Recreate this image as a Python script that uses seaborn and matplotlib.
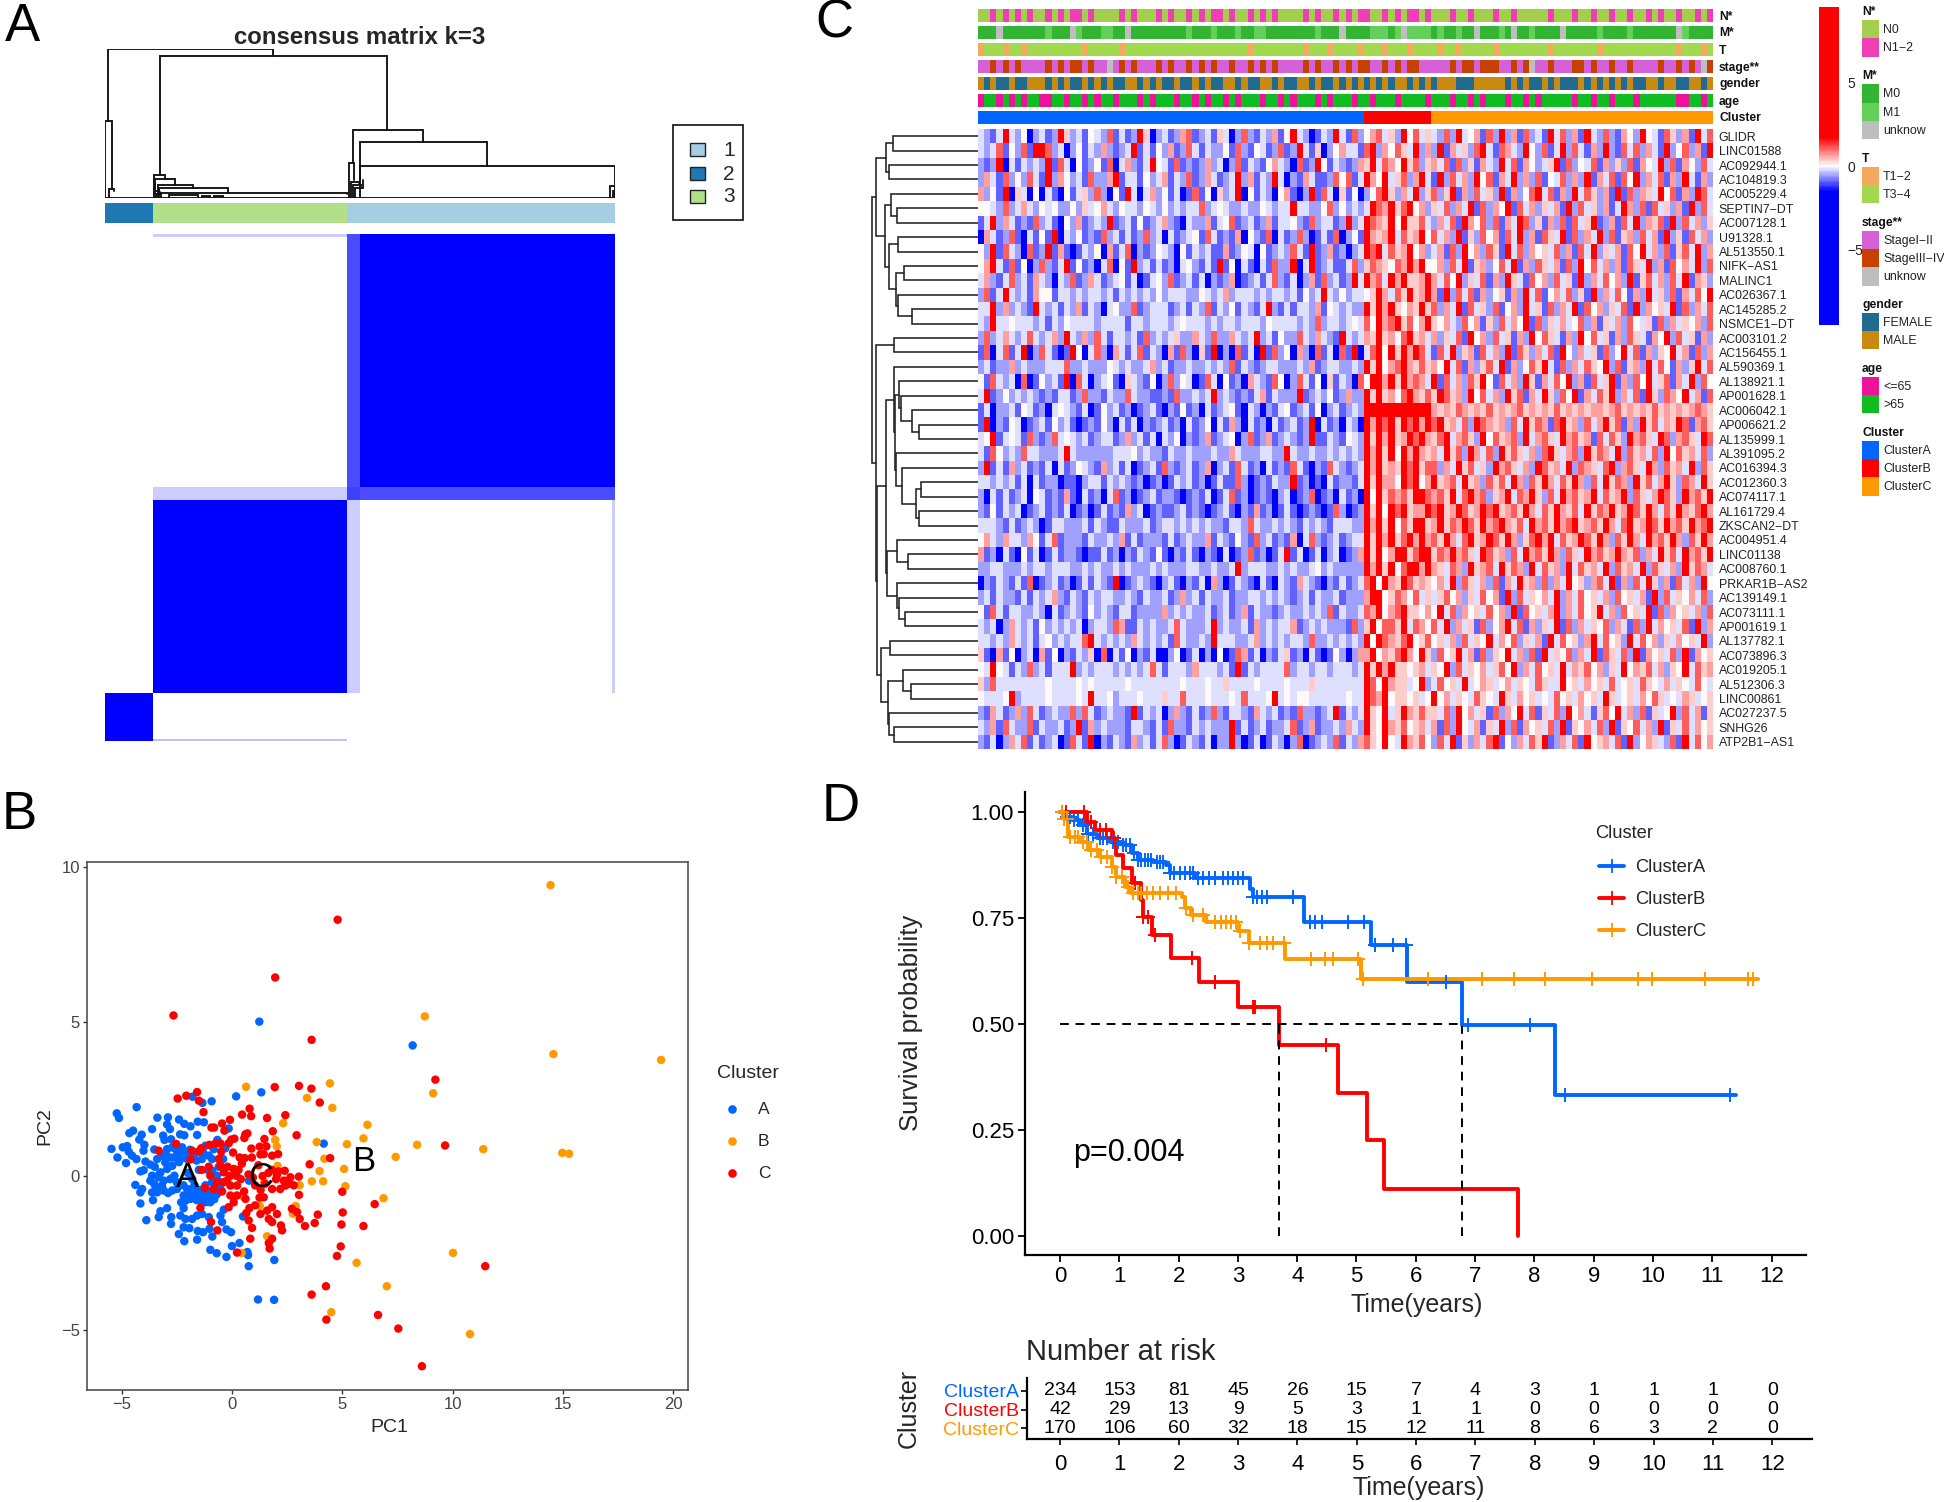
# Four panel figure: consensus matrix, PCA, expression heatmap, survival curves
import numpy as np
import pandas as pd
import matplotlib
matplotlib.use('Agg')
import matplotlib.pyplot as plt
import seaborn as sns
from matplotlib.colors import ListedColormap, LinearSegmentedColormap
from matplotlib.patches import Rectangle

sns.set_theme(style='white')
plt.rcParams['font.family'] = ['Liberation Sans', 'DejaVu Sans']

W, H = 1944, 1502
BLUE, RED, ORANGE = '#0066FF', '#FF0000', '#FF9900'

# ── Panel A data ─────────────────────────────────────────────
group_sizes = [42, 170, 234]
group_colors = ['#1F78B4', '#B2DF8A', '#A6CEE3']
seg_sizes = [2, 40, 170, 11, 220, 3]
seg_consensus = [
    [1.0, 1.0, 0.25, 0.0, 0.0, 0.0],
    [1.0, 1.0, 0.0, 0.0, 0.0, 0.0],
    [0.0, 0.0, 1.0, 0.2, 0.0, 0.2],
    [0.0, 0.0, 0.2, 0.75, 0.7, 0.7],
    [0.0, 0.0, 0.0, 0.7, 1.0, 1.0],
    [0.0, 0.0, 0.2, 0.7, 1.0, 1.0],
]
# sample position left/right, branch heights left/right, join height
den_x0 = [2.6, 48, 216.5, 222.6, 223.4, 0, 3.5, 42.8, 44, 46, 47, 49.3, 55.9, 95, 213.8, 215, 217, 219, 442, 444, 43, 45, 85, 0]
den_x1 = [146.6, 247, 278.4, 333.8, 445.6, 5.7, 8, 52.4, 61, 76.8, 107.4, 212, 81, 103, 218, 222, 224, 226, 445.6, 445.6, 47, 48, 92, 446]
den_h0 = [0.515, 0.157, 0.235, 0.11, 0.0, 0, 0, 0.03, 0.03, 0, 0, 0, 0, 0, 0, 0, 0, 0, 0, 0, 0, 0, 0, 0]
den_h1 = [0.955, 0.454, 0.376, 0.213, 0.08, 0.06, 0.05, 0.13, 0.089, 0.067, 0.034, 0.03, 0, 0, 0.12, 0.1, 0.08, 0.12, 0, 0, 0.06, 0.04, 0, 0]
den_top = [1.0, 0.955, 0.454, 0.376, 0.213, 0.515, 0.06, 0.157, 0.13, 0.089, 0.067, 0.034, 0.022, 0.015, 0.235, 0.11, 0.09, 0.07, 0.08, 0.05, 0.05, 0.03, 0.012, 0.002]

# ── Panel B data (PC1, PC2) ──────────────────────────────────
points_a = [
    (-5.22, 2.03), (-5.12, 1.88), (-4.32, 2.23), (-3.38, 1.89), (-2.90, 1.90), (-2.94, 1.67), (-2.81, 1.52), (-2.40, 1.83),
    (-2.16, 1.69), (-1.88, 1.61), (-1.55, 1.76), (-1.27, 1.74), (-3.62, 1.52), (-4.48, 1.47), (-4.65, 1.39), (-4.09, 1.34),
    (-4.20, 1.18), (-3.97, 1.01), (-4.01, 0.82), (-5.46, 0.88), (-4.95, 0.93), (-4.75, 0.97), (-4.68, 0.79), (-4.53, 0.66),
    (-4.33, 0.55), (-5.19, 0.60), (-4.80, 0.42), (-3.12, 1.31), (-3.06, 1.17), (-2.76, 1.19), (-2.35, 1.35), (-2.16, 1.32),
    (-1.58, 1.33), (-3.52, 0.86), (-0.15, 1.54), (-0.66, 1.17), (-0.92, 2.42), (-1.34, 2.37), (-1.79, 2.57), (0.19, 2.58),
    (1.33, 2.71), (0.77, -0.15), (4.16, 1.05), (1.24, 5.0), (8.19, 4.23),
    (-3.92, 0.47), (-3.70, 0.37), (-3.39, 0.55), (-3.17, 0.66), (-2.94, 0.87), (-2.71, 0.93), (-2.49, 0.82), (-2.26, 0.93),
    (-2.03, 0.76), (-1.73, 0.66), (-3.02, 0.44), (-2.64, 0.60), (-2.34, 0.55), (-2.03, 0.55), (-1.36, 0.55), (-1.05, 0.66),
    (-1.20, 0.98), (-0.83, 0.87), (-4.15, 0.15), (-4.0, 0.19), (-3.62, 0.01), (-3.70, -0.15), (-3.24, 0.12), (-2.94, 0.23),
    (-3.32, -0.04), (-3.09, -0.15), (-2.71, 0.33), (-2.61, 0.01), (-3.17, -0.31), (-3.52, -0.26), (-3.62, -0.53), (-3.39, -0.53),
    (-3.09, -0.47), (-2.71, -0.47), (-2.49, -0.42), (-4.38, -0.29), (-4.07, -0.42), (-4.15, -0.53), (-3.58, -0.78), (-4.15, -0.89),
    (-2.03, -0.42), (-1.81, -0.42), (-1.58, -0.53), (-1.36, -0.63), (-1.13, -0.63), (-0.90, -0.74), (-0.68, -0.58), (-0.52, -0.42),
    (-2.19, -0.63), (-2.11, -0.80), (-1.88, -0.74), (-1.66, -0.69), (-1.43, -0.80), (-1.20, -0.85), (-0.98, -0.85), (-0.68, 0.01),
    (-0.90, 0.17), (-0.52, -0.20), (-0.75, -0.37),
    (-3.5, 0.3), (-3.0, 0.7), (-2.8, 0.6), (-2.5, 0.65), (-2.2, 0.75), (-1.9, 0.85), (-2.6, 0.9), (-2.4, 0.45), (-1.6, 0.5),
    (-1.5, 0.8), (-1.3, 0.75), (-0.9, 0.55), (-2.0, 0.1), (-1.8, -0.1), (-1.7, -0.3), (-1.4, -0.45), (-1.2, -0.3), (-1.0, -0.5),
    (-0.9, -0.2), (-0.7, -0.6), (-1.6, -0.65), (-1.9, -0.55), (-2.2, -0.3), (-2.5, -0.2), (-2.8, -0.1), (-3.3, 0.05), (-3.45, -0.35),
    (-2.9, -0.55), (-1.1, 0.2), (-1.5, 0.2), (-0.6, 0.3), (-0.4, 0.55), (-0.3, 0.9), (-0.8, -0.75), (-1.1, -0.72), (-1.3, -0.6),
    (-1.6, -0.78), (-1.9, -0.7), (-2.05, -0.65), (-2.3, -0.85),
    (-3.24, -1.14), (-2.94, -1.04), (-3.32, -1.33), (-3.88, -1.43), (-2.75, -1.33), (-2.76, -1.55), (-2.19, -1.04), (-2.34, -1.28),
    (-2.11, -1.39), (-1.81, -1.39), (-1.58, -1.28), (-1.36, -1.23), (-1.05, -1.33), (-2.19, -1.66), (-1.93, -1.69), (-2.41, -1.88),
    (-1.55, -1.78), (-1.31, -1.82), (-1.02, -1.71), (-0.89, -1.96), (-1.58, -2.06), (-2.16, -2.11), (-0.45, -1.49), (-0.52, -1.28),
    (-0.37, -1.09), (-0.25, -1.73), (-0.04, -1.82), (0.50, -1.31), (-0.98, -2.39), (-0.69, -2.50), (-0.25, -2.62), (0.0, -2.27),
    (0.34, -2.17), (0.70, -2.46), (0.73, -2.56), (0.76, -2.92), (1.92, -2.72), (1.18, -4.0), (1.91, -4.01),
]
points_b = [
    (14.44, 9.42), (8.74, 5.17), (14.57, 3.95), (19.45, 3.76), (0.64, 2.89), (4.44, 3.0), (9.12, 2.68), (3.4, 2.53), (4.55, 2.21),
    (6.14, 1.66), (2.32, 1.71), (5.96, 1.22), (3.84, 1.1), (5.21, 1.03), (8.39, 1.01), (11.39, 0.87), (14.97, 0.75), (15.28, 0.72),
    (7.42, 0.62), (1.96, 1.17), (2.03, 0.96), (4.19, 0.56), (2.07, 0.33), (3.97, 0.16), (5.08, 0.23), (3.62, -0.17), (4.13, -0.17),
    (3.07, -0.3), (5.14, -0.33), (6.87, -0.72), (1.26, -0.97), (2.89, -0.97), (2.76, -1.22), (1.59, -1.95), (10.02, -2.49),
    (5.65, -2.81), (7.02, -3.57), (4.5, -4.41), (10.79, -5.12), (0.44, -2.49), (0.46, -0.64), (1.46, -0.2),
]
points_c = [
    (-2.65, 5.2), (3.61, 4.41), (9.22, 3.12), (1.94, 2.88), (3.04, 2.92), (3.60, 2.83), (3.98, 2.38), (-1.58, 2.72), (-2.07, 2.60),
    (-2.46, 2.51), (-1.5, 2.44), (-1.29, 2.07), (0.80, 2.18), (0.46, 1.99), (0.87, 1.94), (1.59, 1.88), (2.42, 1.97), (-0.45, 1.70),
    (-0.09, 1.82), (-0.93, 1.57), (-0.81, 1.57), (-0.34, 1.47), (0.11, 1.21), (0.70, 1.38), (0.61, 1.35), (0.56, 1.23), (1.85, 1.45),
    (2.93, 1.32), (1.47, 1.2), (-0.03, 1.18), (-0.15, 1.06), (-1.02, 1.01), (-0.75, 1.05), (-0.52, 1.05), (1.26, 0.95), (1.56, 0.96),
    (0.88, 0.89), (-1.39, 0.90), (-1.49, 0.79), (-1.81, 0.82), (-2.53, 1.04), (-3.32, 0.82), (-1.88, 0.54), (-0.49, 0.79), (0.05, 0.76),
    (0.58, 0.58), (1.44, 0.71), (1.82, 0.66), (2.09, 0.71), (1.29, 0.70), (9.66, 0.99), (4.45, 0.58), (3.52, 0.38), (-0.52, 0.33),
    (-1.05, 0.30), (-1.37, 0.20), (-0.98, 0.01), (-0.37, 0.12), (0.08, 0.23), (0.2, 0.01), (-0.22, -0.15), (-0.07, -0.31), (0.23, -0.31),
    (-0.83, -0.42), (-1.23, -0.39), (-0.37, -0.2), (-0.68, -0.2), (1.39, 0.0), (2.04, 0.03), (2.39, 0.17), (2.65, -0.04), (3.03, -0.02),
    (2.35, -0.15), (5.0, -0.51), (1.82, -0.42), (2.19, -0.42), (2.42, -0.31), (3.04, -0.61), (6.47, -0.91), (0.23, -0.63), (0.61, -0.74),
    (-0.07, -0.63), (0.08, -0.85), (-0.15, -1.01), (0.79, -1.04), (1.44, -0.69), (1.29, -1.23), (1.82, -1.01), (1.59, -1.12), (2.04, -1.23),
    (2.72, -1.06), (2.95, -1.17), (3.07, -1.39), (3.89, -1.25), (5.02, -1.18), (3.75, -1.52), (3.31, -1.62), (4.96, -1.57), (5.96, -1.62),
    (1.67, -1.39), (1.82, -1.49), (2.22, -1.6), (2.27, -1.76), (0.76, -1.44), (0.91, -1.68), (-0.95, -1.49), (-1.43, -1.03), (-0.66, -1.76),
    (0.83, -2.03), (1.82, -2.03), (1.67, -2.17), (1.71, -2.35), (0.23, -2.48), (4.93, -2.28), (4.76, -2.59), (11.48, -2.92), (4.26, -3.57),
    (3.61, -3.84), (6.62, -4.5), (4.28, -4.65), (7.54, -4.94), (4.79, 8.3), (1.96, 6.43), (8.61, -6.16),
    (-0.2, 0.3), (-0.1, 0.0), (0.3, 0.2), (-0.6, 0.55), (0.45, 0.4), (0.4, -0.1), (0.55, -0.5), (-0.45, -0.5), (0.35, 0.6), (0.75, 0.05),
    (0.95, -0.05), (1.05, -0.3), (1.3, -0.45), (1.5, -0.25), (1.65, 0.1), (1.8, 0.2), (2.0, -0.1), (2.1, 0.15), (2.6, -0.25), (2.8, -0.3),
    (1.2, 0.35), (0.9, 0.6), (1.25, -0.7), (0.65, -1.2), (1.05, -0.95),
]

# ── Panel C data ─────────────────────────────────────────────
genes = ['GLIDR', 'LINC01588', 'AC092944.1', 'AC104819.3', 'AC005229.4', 'SEPTIN7−DT', 'AC007128.1', 'U91328.1', 'AL513550.1',
         'NIFK−AS1', 'MALINC1', 'AC026367.1', 'AC145285.2', 'NSMCE1−DT', 'AC003101.2', 'AC156455.1', 'AL590369.1', 'AL138921.1',
         'AP001628.1', 'AC006042.1', 'AP006621.2', 'AL135999.1', 'AL391095.2', 'AC016394.3', 'AC012360.3', 'AC074117.1',
         'AL161729.4', 'ZKSCAN2−DT', 'AC004951.4', 'LINC01138', 'AC008760.1', 'PRKAR1B−AS2', 'AC139149.1', 'AC073111.1',
         'AP001619.1', 'AL137782.1', 'AC073896.3', 'AC019205.1', 'AL512306.3', 'LINC00861', 'AC027237.5', 'SNHG26', 'ATP2B1−AS1']
# expression levels per digit, 0 = strongest blue, 8 = strongest red
heat_levels = [-1.6, -0.95, -0.52, -0.22, 0.0, 0.3, 0.65, 1.05, 1.8]
# estimated by eye and coarsened: one character covers about 4 samples
heat_a = [
    '3213832402 3128523143 2713128502 3126712315 3027213261 4832013283 172',
    '3237142718 8723024132 6212381314 2612731322 4172143127 1283150246 331',
    '2128031323 2817304124 1703621384 3171212623 0271321463 2071284132 126',
    '2631724273 1826423172 2681331423 6132712631 2382613283 0216311274 713',
    '6241805304 0310413527 2041830362 4130171405 2380413204 6102817305 140',
    '4432723632 4342242534 6324332432 4232337234 3223224323 3833224724 232',
    '1382631217 2310426123 2812314123 6210322613 4712312613 3421723312 823',
    '0631271031 4180324121 7231312723 0312341731 2160421703 1272013170 241',
    '4281732071 2816101324 0613702124 3204132311 6124304123 2731812612 023',
    '4683171402 7213814120 3704182313 1203421318 1403103172 2803812311 372',
    '3621372316 3203271263 1234130134 2712313021 2601231372 1302617231 283',
    '2713832316 4413323233 2313232324 2333224323 6233323233 2314238324 233',
    '3382623218 3231326132 0342271233 3123132713 2413213821 3133261432 322',
    '3283343332 3132433332 3333133233 3234333232 3323332433 3323272332 343',
    '2723632373 2362832627 3133231723 2352263272 2632382314 2273263218 323',
    '1703713802 7310184037 2063137132 0617205180 2071308172 4062071307 180',
    '2312262322 2333722322 2432322362 3122322323 2713212332 2232612332 232',
    '4173230701 4231807302 3410532140 2724301730 4120632174 0273140513 207',
    '3812423232 1213312722 1322732211 2172232382 3212136132 2281232412 622',
    '1302231431 2034321301 4231201231 0214120312 3410320213 4123140231 232',
    '1802143012 3142310121 4203130212 3120312403 1620312031 2312803120 320',
    '3481343172 1273432312 3312623130 3240212612 3402712612 3212811321 432',
    '3174232733 2223832222 2233342322 1322322232 2632223322 8322322323 232',
    '2813162312 1303124321 6231301231 7212312602 3173120312 1731021732 123',
    '3323231303 1220110233 1323212012 0132312013 1172012132 2812010312 213',
    '2031312304 3121610312 0371201231 2210121301 3712012102 3012701203 120',
    '2141323012 3121301201 3121623012 1123121012 3102161201 3101210172 012',
    '3332131232 0133222313 2113222312 3323232322 1332732232 3213232133 322',
    '4632633264 1371222132 2326131222 1312322613 2142172312 1603721231 233',
    '6120310413 0131221011 3120213214 1021310210 3012712013 8130130230 126',
    '2233222323 3233322323 2232322232 3222332232 2382333223 2322342322 222',
    '0213213170 1231201313 2180123210 2310213062 0132103103 2163210213 123',
    '2313221313 2362132132 3322321322 3126231322 3122332323 2123132231 222',
    '4173133223 2031232142 3213312222 6232322312 3126132212 3223232713 223',
    '3230263231 4232323023 3276113232 2373222382 3223162323 3612323222 172',
    '3323263231 3423233783 2323263232 3173223283 3322362323 2332722323 232',
    '5106140230 6140213250 7031402130 0240130204 0176130213 5120310142 026',
    '4384313272 3133382323 3323232373 1333263332 3181323333 7233233233 323',
    '5273333333 3433334343 3333433333 3334333433 5333343333 4333533333 333',
    '4333482333 3433334383 3423334333 5337333433 3437333483 4344333333 433',
    '2163126273 1232272731 2322181323 0262131272 1332163231 2172212381 323',
    '3261732271 3223128162 3222133213 1722132322 2813123122 3712612232 632',
    '2130263713 1230173180 2132162313 7201321302 2820130132 0270123271 326',
]
heat_b = [
    '46735284735', '78264753826', '58376485725', '86483572683', '24785263825', '38768578462', '87658485573', '86568375684',
    '87837568462', '57654768684', '86738685568', '45863758568', '85868546585', '74867857468', '65856478563', '37848586873',
    '85846786575', '48868586763', '85856478657', '88888888888', '86878587868', '85868568786', '86858486865', '86856587857',
    '85866487846', '84857675887', '85848785668', '86858475885', '85868578686', '85846885788', '86858478868', '78486587565',
    '68845764735', '76846785546', '58477583764', '84876578457', '68465786485', '85868554563', '87486553482', '87684554534',
    '85483586575', '85486574563', '75484386574',
]
heat_c = [
    '3272834617 2826172318 3726183272 1642843175 261837',
    '2816352783 1763284271 3827316282 1737263182 472618',
    '6371725163 2837164235 8172437162 5271643827 164273',
    '1827362847 1638262714 3726281637 1748263716 283162',
    '7258162735 2816247837 1628375261 8172653847 162873',
    '5372638172 6481736253 6182735261 3862717352 618273',
    '2637186472 7163872516 2717358126 1738265718 273625',
    '7362815274 6173826175 3817263827 1562736182 517362',
    '3617284627 5183726453 7261738253 6174836271 573826',
    '4627381562 4738162753 6172847362 6175382617 463827',
    '6374825371 6285317462 7351826374 6281573627 381652',
    '6182737162 4516283714 6372518263 7416283527 163748',
    '7263817352 7146283517 2638174625 3718264538 172637',
    '5463274615 2736481725 3634726153 6274351726 354627',
    '6253718462 7351628475 3162847351 6275316482 735162',
    '1738256173 6281752637 1842635172 4837162548 361726',
    '6483716257 3816247583 1726375482 7156283741 625837',
    '8173627584 1736285163 7482617358 1627483571 638274',
    '5875628473 6285716385 2748163758 2637185276 483617',
    '6565765657 5656756565 7565656656 7565657565 656765',
    '7856372876 5627385761 7856273685 7162857365 871675',
    '5783675284 7567283675 3867561737 5286753872 675387',
    '6385728637 2857536278 5367285763 8275637284 756372',
    '7263857352 8675362875 6382765378 2675386275 638275',
    '8567385627 5738627586 3758627385 7628573685 276385',
    '6758378672 5683768527 3867568375 6827536875 286758',
    '7856875687 8567586375 8657385768 5687586375 865786',
    '6857687586 7865738675 8678567586 3785687586 758678',
    '7586378568 7586257868 3756875862 7586386758 627586',
    '5768675387 5627386758 6275386756 8657263857 386758',
    '6537628567 3857628375 6283756382 7563827536 285763',
    '4638275362 7163856272 6384526738 1627385261 736284',
    '3574625374 6182735463 8263745362 7453618273 546372',
    '4837264537 4628174536 8263745836 2745381726 453627',
    '7382635172 4683716253 8172635472 6317283645 371826',
    '4536273548 3647253618 3745268374 5283746253 645382',
    '2745836172 5483627183 5472638175 3728164537 281645',
    '5482735463 5748263745 3836574625 3846573625 483756',
    '3745383465 3463543753 3845364537 3453754363 543743',
    '8463543754 3853645343 7453645385 3453647534 365345',
    '5372846351 7264837153 7284631574 8362715348 273615',
    '6172843615 3827164537 2815463728 1547362815 373645',
    '2738152637 8142637581 2637184563 7182465327 183746',
]
cluster_cols = [63, 11, 46]
track_names = ['N*', 'M*', 'T', 'stage**', 'gender', 'age']
track_n = '0010101010 0101011010 0001010001 0100101011 0100101010 0001010010 1011001010 1101000100 1000100100 0001000100 1001001001 0100100101'
track_m = '0002000000 0100021000 1100200000 0000100010 0010011000 0000010002 0000111012 1111010010 0200010200 1000020000 0100001000 0000210000'
track_t = '0111011011 1111111011 1110111111 1111111111 1111011111 1110111011 1101110111 0111101101 1111011111 1110111111 1011111111 1111011101'
track_stage = '0010101000 0101011010 0201010001 0100101010 0100101010 0001010010 1011001010 1100000101 1011100101 2001000110 1001001000 0100101021'
track_gender = '1010010011 1010100101 0100110101 0010010100 1101001101 0011010010 1010101011 0101011100 0111110101 0010100010 1010101001 1011001101'
track_age = '0110101011 0011011010 1101110101 1101101011 0101110110 1011101011 1011011101 1110111011 0101110110 1011111011 0110111011 1111001101'
track_colors = [['#A6CE4E', '#EE3FB5'], ['#33B533', '#62D05A', '#BEBEBE'], ['#F5A95F', '#A2D94F'],
                ['#D660D8', '#C64000', '#BEBEBE'], ['#226B90', '#C98A12'], ['#EE1199', '#11BB22']]
# row dendrogram: child a, child b, height of the join; new nodes count on from 43
merge_a = [0, 2, 43, 5, 4, 7, 9, 12, 11, 49, 48, 47, 45, 14, 20, 19, 18, 17, 24, 26, 61, 23, 22, 60, 16, 29, 28, 33, 32, 31, 69, 67, 35, 38, 37, 41, 40, 77, 75, 74, 56, 55]
merge_b = [1, 3, 44, 6, 46, 8, 10, 13, 50, 51, 52, 53, 54, 15, 21, 57, 58, 59, 25, 27, 62, 63, 64, 65, 66, 30, 68, 34, 70, 71, 72, 73, 36, 39, 76, 42, 78, 79, 80, 81, 82, 83]
merge_h = [255, 267, 277, 242, 261, 240, 221, 199, 240, 245, 268, 279, 305, 252, 177, 198, 230, 238, 170, 177, 187, 227, 247, 249, 253, 210, 243, 218, 237, 243, 272, 275, 265, 200, 225, 252, 267, 269, 290, 304, 306, 319]

# ── Panel D data ─────────────────────────────────────────────
time_a = [0, 0.06, 0.2, 0.34, 0.45, 0.62, 0.84, 1.07, 1.21, 1.32, 1.57, 1.79, 1.85, 2.27, 3.21, 3.26, 4.11, 5.25, 5.85, 6.78, 8.34, 11.4]
surv_a = [1, 0.99, 0.982, 0.97, 0.95, 0.939, 0.931, 0.923, 0.903, 0.888, 0.884, 0.876, 0.856, 0.844, 0.82, 0.80, 0.742, 0.687, 0.60, 0.498, 0.333, 0.333]
time_b = [0, 0.45, 0.59, 0.87, 0.93, 0.94, 1.07, 1.21, 1.37, 1.4, 1.56, 1.88, 2.35, 3.0, 3.7, 4.69, 5.17, 5.47, 7.73]
surv_b = [1, 0.978, 0.958, 0.939, 0.927, 0.90, 0.868, 0.833, 0.793, 0.754, 0.711, 0.656, 0.60, 0.54, 0.451, 0.337, 0.228, 0.112, 0.0]
time_c = [0, 0.06, 0.14, 0.34, 0.48, 0.67, 0.87, 0.95, 1.09, 1.18, 2.05, 2.1, 2.21, 2.47, 3.0, 3.18, 3.79, 5.08, 11.77]
surv_c = [1, 0.985, 0.943, 0.931, 0.911, 0.895, 0.872, 0.848, 0.825, 0.809, 0.80, 0.774, 0.758, 0.742, 0.719, 0.691, 0.653, 0.607, 0.607]
cens_a = [0.11, 0.17, 0.23, 0.31, 0.39, 0.48, 0.56, 0.67, 0.73, 0.79, 0.9, 0.98, 1.07, 1.12, 1.18, 1.24, 1.32, 1.37, 1.43, 1.49, 1.54, 1.63,
          1.68, 1.74, 1.85, 1.93, 2.02, 2.1, 2.19, 2.24, 2.33, 2.42, 2.52, 2.61, 2.75, 2.83, 2.92, 3.0, 3.09, 3.26, 3.32, 3.4, 3.49, 3.93,
          4.21, 4.3, 4.41, 4.86, 5.12, 5.31, 5.61, 5.84, 6.51, 6.88, 7.93, 8.52, 11.29]
cens_b = [0.03, 0.1, 0.41, 0.53, 0.67, 0.77, 0.91, 1.26, 1.4, 1.49, 1.6, 2.22, 2.61, 3.26, 3.29, 4.49]
cens_c = [0.03, 0.06, 0.11, 0.17, 0.25, 0.31, 0.39, 0.45, 0.53, 0.62, 0.7, 0.79, 0.87, 0.95, 1.04, 1.15, 1.23, 1.32, 1.37, 1.46, 1.57, 1.68,
          1.82, 1.96, 2.13, 2.24, 2.42, 2.61, 2.72, 2.8, 2.89, 2.97, 3.03, 3.18, 3.37, 3.49, 3.6, 3.77, 4.24, 4.47, 4.61, 5.02, 5.11, 6.21,
          7.11, 7.65, 8.18, 8.97, 9.75, 9.98, 10.88, 11.6, 11.68]
median_a, median_b = 6.78, 3.70
risk_times = list(range(13))
risk_a = [234, 153, 81, 45, 26, 15, 7, 4, 3, 1, 1, 1, 0]
risk_b = [42, 29, 13, 9, 5, 3, 1, 1, 0, 0, 0, 0, 0]
risk_c = [170, 106, 60, 32, 18, 15, 12, 11, 8, 6, 3, 2, 0]

fig = plt.figure(figsize=(W / 100, H / 100), dpi=100, facecolor='white')


def px_axes(x0, y0, x1, y1):
    # axes placed by pixel box, y counted from the top like in the reference
    return fig.add_axes([x0 / W, 1 - y1 / H, (x1 - x0) / W, (y1 - y0) / H])


overlay = fig.add_axes([0, 0, 1, 1], zorder=5)
overlay.set_xlim(0, W)
overlay.set_ylim(H, 0)
overlay.axis('off')

for letter, x, y in [('A', 5, 27), ('B', 2, 815), ('C', 815, 23), ('D', 822, 807)]:
    overlay.text(x, y, letter, fontsize=38, va='center', ha='left', color='black')

# ── Panel A ──────────────────────────────────────────────────
ax_den = px_axes(105, 49, 615, 198)
for x0, x1, h0, h1, top in zip(den_x0, den_x1, den_h0, den_h1, den_top):
    ax_den.plot([x0, x0, x1, x1], [h0, top, top, h1], color='#111111', lw=1.35, solid_joinstyle='miter')
ax_den.set_xlim(0, 446)
ax_den.set_ylim(0, 1)
ax_den.axis('off')

ax_bar = px_axes(105, 203, 615, 223)
bar_codes = np.repeat(np.arange(3), group_sizes).reshape(1, -1)
sns.heatmap(bar_codes, ax=ax_bar, cmap=ListedColormap(group_colors), cbar=False, xticklabels=False, yticklabels=False)

consensus = np.repeat(np.repeat(np.array(seg_consensus), seg_sizes, axis=0), seg_sizes, axis=1)[::-1]
ax_mat = px_axes(105, 234, 615, 741)
sns.heatmap(consensus, ax=ax_mat, cmap=LinearSegmentedColormap.from_list('cons', ['white', '#0000FF']),
            vmin=0, vmax=1, cbar=False, xticklabels=False, yticklabels=False)

overlay.text(360, 38, 'consensus matrix k=3', fontsize=17.3, fontweight='bold', ha='center', va='center')
overlay.add_patch(Rectangle((673, 125), 70, 95, fill=False, ec='#222222', lw=1.3))
for label, c, y in zip(['1', '2', '3'], ['#A6CEE3', '#1F78B4', '#B2DF8A'], [149, 173, 196]):
    overlay.add_patch(Rectangle((690, y - 6.5), 15, 13, fc=c, ec='#222222', lw=1))
    overlay.text(723, y + 1, label, fontsize=15, ha='left', va='center')

# ── Panel B ──────────────────────────────────────────────────
ax_pca = px_axes(87, 862, 688, 1390)
pca = pd.DataFrame([(x, y, 'A') for x, y in points_a] + [(x, y, 'B') for x, y in points_b] + [(x, y, 'C') for x, y in points_c],
                   columns=['PC1', 'PC2', 'Cluster'])
sns.scatterplot(data=pca, x='PC1', y='PC2', hue='Cluster', palette={'A': BLUE, 'B': ORANGE, 'C': RED},
                s=37, linewidth=0, legend=False, ax=ax_pca)
ax_pca.set_xlim(-6.57, 20.67)
ax_pca.set_ylim(-6.93, 10.17)
ax_pca.set_xticks([-5, 0, 5, 10, 15, 20], ['−5', '0', '5', '10', '15', '20'])
ax_pca.set_yticks([-5, 0, 5, 10], ['−5', '0', '5', '10'])
ax_pca.tick_params(axis='both', length=3, width=1, color='#333333', labelcolor='#444444', labelsize=12, pad=2, bottom=True, left=True)
ax_pca.set_xlabel('')
ax_pca.set_ylabel('')
for side in ax_pca.spines.values():
    side.set_color('#444444')
    side.set_linewidth(1.1)
for label, x, y in [('A', -2.0, -0.06), ('C', 1.3, -0.06), ('B', 5.98, 0.48)]:
    ax_pca.text(x, y, label, fontsize=25, ha='center', va='center', color='black')
overlay.text(389, 1428, 'PC1', fontsize=14, ha='center', va='center')
overlay.text(45, 1126, 'PC2', fontsize=14, rotation=90, ha='center', va='center')
overlay.text(717, 1074, 'Cluster', fontsize=14, ha='left', va='center')
for label, c, y in zip(['A', 'B', 'C'], [BLUE, ORANGE, RED], [1109, 1141, 1173]):
    overlay.plot([732], [y], 'o', color=c, ms=6.2, mew=0)
    overlay.text(758, y + 0.5, label, fontsize=12.5, ha='left', va='center')

# ── Panel C ──────────────────────────────────────────────────
heat_digits = [(a + b + c).replace(' ', '') for a, b, c in zip(heat_a, heat_b, heat_c)]
heat = np.array(heat_levels)[np.array([[int(ch) for ch in row] for row in heat_digits])]
heat_cmap = LinearSegmentedColormap.from_list(
    'expr', [(0, '#0000FF'), (0.421, '#0000FF'), (0.5, '#FFFFFF'), (0.589, '#FF0000'), (1, '#FF0000')])
ax_heat = px_axes(978, 129, 1713, 749)
ax_cbar = px_axes(1819, 7, 1839, 325)
sns.heatmap(heat, ax=ax_heat, cbar_ax=ax_cbar, cmap=heat_cmap, vmin=-9.5, vmax=9.5, xticklabels=False, yticklabels=genes,
            cbar_kws={'ticks': [-5, 0, 5]})
ax_heat.yaxis.tick_right()
ax_heat.tick_params(axis='y', length=0, pad=4.2, labelsize=8.9, labelrotation=0, labelcolor='#222222')
ax_cbar.tick_params(length=0, pad=6, labelsize=10, labelcolor='#222222')
ax_cbar.set_yticks([-5, 0, 5], ['−5', '0', '5'])
ax_heat.collections[0].colorbar.outline.set_visible(False)

track_strings = [track_n, track_m, track_t, track_stage, track_gender, track_age]
for i, (name, s, cols) in enumerate(zip(track_names, track_strings, track_colors)):
    top = 9 + i * 17
    ax_t = px_axes(978, top, 1713, top + 12.5)
    codes = np.array([int(ch) for ch in s.replace(' ', '')]).reshape(1, -1)
    sns.heatmap(codes, ax=ax_t, cmap=ListedColormap(cols), vmin=0, vmax=len(cols) - 1, cbar=False, xticklabels=False, yticklabels=False)
    overlay.text(1719, top + 7.5, name, fontsize=8.7, fontweight='bold', ha='left', va='center', color='#111111')
ax_t = px_axes(978, 111, 1713, 123.5)
codes = np.repeat(np.arange(3), cluster_cols).reshape(1, -1)
sns.heatmap(codes, ax=ax_t, cmap=ListedColormap([BLUE, RED, ORANGE]), cbar=False, xticklabels=False, yticklabels=False)
overlay.text(1719, 118, 'Cluster', fontsize=8.7, fontweight='bold', ha='left', va='center', color='#111111')

# row dendrogram
ax_rden = px_axes(860, 129, 978, 749)
node_y = {i: i + 0.5 for i in range(43)}
node_h = {i: 0 for i in range(43)}
for k, (a, b, h) in enumerate(zip(merge_a, merge_b, merge_h)):
    ax_rden.plot([node_h[a], h, h, node_h[b]], [node_y[a], node_y[a], node_y[b], node_y[b]],
                 color='#222222', lw=1.15, solid_joinstyle='miter')
    node_y[43 + k] = (node_y[a] + node_y[b]) / 2
    node_h[43 + k] = h
ax_rden.set_xlim(354, 0)
ax_rden.set_ylim(43, 0)
ax_rden.axis('off')

legend_groups = [
    ('N*', ['N0', 'N1−2'], track_colors[0], 11, 20),
    ('M*', ['M0', 'M1', 'unknow'], track_colors[1], 75, 84.3),
    ('T', ['T1−2', 'T3−4'], track_colors[2], 157.7, 166.7),
    ('stage**', ['StageI−II', 'StageIII−IV', 'unknow'], track_colors[3], 221.7, 230.7),
    ('gender', ['FEMALE', 'MALE'], track_colors[4], 304, 312.7),
    ('age', ['<=65', '>65'], track_colors[5], 368, 376.7),
    ('Cluster', ['ClusterA', 'ClusterB', 'ClusterC'], [BLUE, RED, ORANGE], 432, 440.7),
]
for title, labels, cols, y_title, y0 in legend_groups:
    overlay.text(1862, y_title + 1, title, fontsize=8.7, fontweight='bold', ha='left', va='center', color='#111111')
    for j, (label, c) in enumerate(zip(labels, cols)):
        overlay.add_patch(Rectangle((1862, y0 + j * 18.3), 17, 18.3, fc=c, ec='none'))
        overlay.text(1883, y0 + (j + 0.5) * 18.3 + 0.8, label, fontsize=8.9, ha='left', va='center', color='#222222')

# ── Panel D ──────────────────────────────────────────────────
ax_km = px_axes(1025, 792, 1806, 1255)
curves = [(time_a, surv_a, cens_a, BLUE), (time_b, surv_b, cens_b, RED), (time_c, surv_c, cens_c, ORANGE)]
for t, s, cens, c in curves:
    sns.lineplot(x=t, y=s, estimator=None, sort=False, drawstyle='steps-post', color=c, linewidth=2.8, ax=ax_km)
    at = np.searchsorted(t, cens, side='right') - 1
    sns.scatterplot(x=cens, y=np.array(s)[at], marker='+', s=115, color=c, linewidth=1.4, ax=ax_km, zorder=3)
ax_km.plot([0, median_a], [0.5, 0.5], color='black', lw=1.4, dashes=(4.5, 3.5))
for m in [median_b, median_a]:
    ax_km.plot([m, m], [0, 0.5], color='black', lw=1.4, dashes=(4.5, 3.5))
ax_km.set_xlim(-0.59, 12.58)
ax_km.set_ylim(-0.044, 1.048)
ax_km.set_xticks(risk_times)
ax_km.set_yticks([0, 0.25, 0.5, 0.75, 1.0], ['0.00', '0.25', '0.50', '0.75', '1.00'])
ax_km.text(0.22, 0.196, 'p=0.004', fontsize=22, ha='left', va='center', color='black')
sns.despine(ax=ax_km)
ax_km.tick_params(axis='both', length=5, width=1.3, color='black', labelcolor='black', labelsize=16, pad=3, bottom=True, left=True)
for side in ['left', 'bottom']:
    ax_km.spines[side].set_linewidth(1.6)
    ax_km.spines[side].set_color('black')
overlay.text(911, 1023, 'Survival probability', fontsize=18.5, rotation=90, ha='center', va='center')
overlay.text(1417, 1305, 'Time(years)', fontsize=18, ha='center', va='center')
overlay.text(1595, 834, 'Cluster', fontsize=13.2, ha='left', va='center')
for label, c, y in zip(['ClusterA', 'ClusterB', 'ClusterC'], [BLUE, RED, ORANGE], [866, 898, 930]):
    overlay.plot([1599, 1624], [y, y], color=c, lw=2.8)
    overlay.plot([1611.5], [y], marker='+', ms=10.5, mew=1.3, color=c)
    overlay.text(1635, y + 1.5, label, fontsize=13.2, ha='left', va='center')

ax_risk = px_axes(1027, 1378, 1812, 1439)
for row, counts in zip([2, 1, 0], [risk_a, risk_b, risk_c]):
    for t, n in zip(risk_times, counts):
        ax_risk.text(t, row, str(n), fontsize=14, ha='center', va='center', color='black')
ax_risk.set_xlim(-0.556, 12.67)
ax_risk.set_ylim(-0.59, 2.7)
ax_risk.set_xticks(risk_times)
ax_risk.set_yticks([2, 1, 0], ['ClusterA', 'ClusterB', 'ClusterC'])
sns.despine(ax=ax_risk)
ax_risk.tick_params(axis='both', length=4, width=1.2, color='black', labelsize=14, pad=2, bottom=True, left=True)
ax_risk.tick_params(axis='x', labelcolor='black', labelsize=16, pad=7)
for lab, c in zip(ax_risk.get_yticklabels(), [BLUE, RED, ORANGE]):
    lab.set_color(c)
for side in ['left', 'bottom']:
    ax_risk.spines[side].set_linewidth(1.6)
    ax_risk.spines[side].set_color('black')
overlay.text(1026, 1352, 'Number at risk', fontsize=21, ha='left', va='center')
overlay.text(909, 1408, 'Cluster', fontsize=18, rotation=90, ha='center', va='center')
overlay.text(1419, 1488, 'Time(years)', fontsize=18, ha='center', va='center')

fig.savefig('out.png', dpi=100, facecolor='white')
